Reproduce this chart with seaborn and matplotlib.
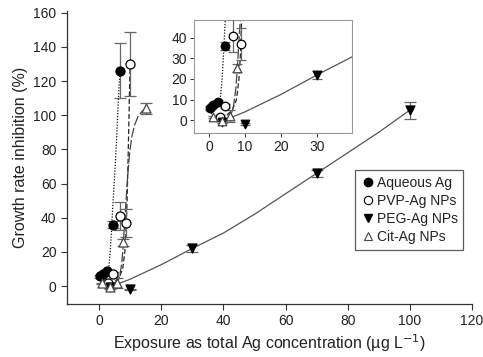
import numpy as np
import pandas as pd
import matplotlib
matplotlib.use("Agg")
import matplotlib.pyplot as plt
import seaborn as sns
from matplotlib.lines import Line2D

# ---- data ----
aq_x = [0.3, 1.2, 2.6, 4.4, 6.7]
aq_y = [5.7, 7.3, 8.6, 36.0, 126.0]
aq_e = [1.0, 1.0, 1.0, 2.0, 16.0]

pvp_x = [3.0, 4.4, 6.6, 8.8, 10.0]
pvp_y = [1.5, 7.0, 41.0, 37.0, 130.0]
pvp_e = [1.0, 1.0, 8.0, 8.0, 19.0]

peg_x = [3.5, 10.0, 30.0, 70.0, 100.0]
peg_y = [-0.8, -2.0, 22.0, 66.0, 103.0]
peg_e = [0.5, 0.5, 2.0, 2.0, 5.0]

cit_x = [1.0, 3.5, 5.8, 7.8, 15.0]
cit_y = [1.5, -0.5, 2.0, 25.5, 104.0]
cit_e = [0.5, 1.0, 3.0, 2.0, 3.0]

# fitted curves, sampled along the drawn lines
aq_fit_x = [0.5, 1.5, 2.5, 3.2, 3.6, 4.0, 4.4, 5.0, 5.6, 6.1, 6.7]
aq_fit_y = [3.0, 4.5, 7.0, 12.0, 20.0, 32.0, 46.0, 64.0, 84.0, 104.0, 126.0]

pvp_fit_x = [3.0, 5.0, 6.5, 7.6, 8.3, 8.7, 9.0, 9.3, 9.6, 9.85, 10.0]
pvp_fit_y = [1.0, 2.5, 5.0, 10.0, 20.0, 32.0, 48.0, 70.0, 95.0, 118.0, 130.0]

cit_fit_x = [5.0, 6.0, 6.8, 7.4, 7.8, 8.2, 8.7, 9.2, 9.8, 10.5, 11.4, 12.5, 13.7, 15.0]
cit_fit_y = [0.5, 2.0, 7.0, 15.0, 24.0, 36.0, 50.0, 64.0, 77.0, 87.0, 94.0, 99.0, 102.0, 104.0]

peg_fit_x = [5.0, 10.0, 20.0, 30.0, 40.0, 50.0, 60.0, 70.0, 80.0, 90.0, 100.0]
peg_fit_y = [0.5, 4.0, 12.5, 22.0, 31.0, 42.0, 54.0, 66.0, 78.0, 90.0, 103.0]

xticks_main = [0, 20, 40, 60, 80, 100, 120]
yticks_main = [0, 20, 40, 60, 80, 100, 120, 140, 160]
xticks_in = [0, 10, 20, 30]
yticks_in = [0, 10, 20, 30, 40]

labels = ["Aqueous Ag", "PVP-Ag NPs", "PEG-Ag NPs", "Cit-Ag NPs"]

# ---- style ----
sns.set_style("ticks")
plt.rcParams["font.family"] = ["Liberation Sans", "DejaVu Sans"]
TXT = "#222222"
plt.rcParams["text.color"] = TXT
plt.rcParams["axes.labelcolor"] = TXT
plt.rcParams["xtick.color"] = "#333333"
plt.rcParams["ytick.color"] = "#333333"
plt.rcParams["xtick.labelcolor"] = TXT
plt.rcParams["ytick.labelcolor"] = TXT

fig = plt.figure(figsize=(4.83, 3.57), dpi=100)
ax = fig.add_axes([67/483, 1-304/357, (472-67)/483, (304-11)/357])
axi = fig.add_axes([194/483, 1-133/357, (352-194)/483, (133-20)/357])

series = [
    (aq_x, aq_y, aq_e, "o", "black", "black", 6.5),
    (pvp_x, pvp_y, pvp_e, "o", "white", "black", 6.5),
    (peg_x, peg_y, peg_e, "v", "black", "black", 6.5),
    (cit_x, cit_y, cit_e, "^", "white", "#444444", 6.5),
]
fits = [
    (aq_fit_x, aq_fit_y, (0, (1, 1.3)), "#111111", 0.9),
    (pvp_fit_x, pvp_fit_y, (0, (4, 2)), "#222222", 0.9),
    (cit_fit_x, cit_fit_y, (0, (8, 2)), "#444444", 0.9),
    (peg_fit_x, peg_fit_y, "-", "#555555", 0.9),
]


def draw(a, ms_scale=1.0):
    for fx, fy, ls, c, lw in fits:
        df = pd.DataFrame({"x": fx, "y": fy})
        sns.lineplot(data=df, x="x", y="y", ax=a, sort=False, color=c,
                     linestyle=ls, linewidth=lw, estimator=None, zorder=2)
    for xs, ys, es, m, fc, ec, ms in series:
        a.errorbar(xs, ys, yerr=es, fmt="none", ecolor="#666666",
                   elinewidth=0.9, capsize=4 * ms_scale, capthick=0.9, zorder=3)
        df = pd.DataFrame({"x": xs, "y": ys})
        sns.scatterplot(data=df, x="x", y="y", ax=a, marker=m, color=fc,
                        edgecolor=ec, linewidth=0.9, s=(ms * ms_scale) ** 2,
                        zorder=4, legend=False)


draw(ax)
ax.set_xlim(-10.3, 120)
ax.set_ylim(-10.5, 161)
ax.set_xticks(xticks_main)
ax.set_yticks(yticks_main)
ax.tick_params(labelsize=10, length=4, width=0.8)
ax.spines["top"].set_visible(False)
ax.spines["right"].set_visible(False)
for s in ["left", "bottom"]:
    ax.spines[s].set_color("#333333")
    ax.spines[s].set_linewidth(0.9)
ax.set_xlabel("Exposure as total Ag concentration (µg L$^{-1}$)", fontsize=11.5, labelpad=3)
ax.set_ylabel("Growth rate inhibition (%)", fontsize=11.5, labelpad=4)

draw(axi, ms_scale=0.95)
axi.set_xlim(-4.2, 39.7)
axi.set_ylim(-6.3, 48.7)
axi.set_xticks(xticks_in)
axi.set_yticks(yticks_in)
axi.tick_params(labelsize=10, length=3, width=0.7, pad=2)
axi.set_xlabel("")
axi.set_ylabel("")
for s in axi.spines.values():
    s.set_color("#999999")
    s.set_linewidth(0.8)
axi.set_facecolor("white")

handles = [
    Line2D([], [], marker="o", linestyle="none", markerfacecolor="black", markeredgecolor="black", markersize=6),
    Line2D([], [], marker="o", linestyle="none", markerfacecolor="white", markeredgecolor="black", markersize=6, markeredgewidth=0.8),
    Line2D([], [], marker="v", linestyle="none", markerfacecolor="black", markeredgecolor="black", markersize=6),
    Line2D([], [], marker="^", linestyle="none", markerfacecolor="white", markeredgecolor="#444444", markersize=6, markeredgewidth=0.8),
]
leg = ax.legend(handles, labels, loc="upper left",
                bbox_to_anchor=(355/483, 1-170/357), bbox_transform=fig.transFigure,
                fontsize=10, frameon=True, fancybox=False, handletextpad=0.15,
                handlelength=1.0, borderpad=0.4, labelspacing=0.3,
                borderaxespad=0)
leg.get_frame().set_edgecolor("#333333")
leg.get_frame().set_linewidth(0.9)

fig.savefig("out.png", dpi=100)
